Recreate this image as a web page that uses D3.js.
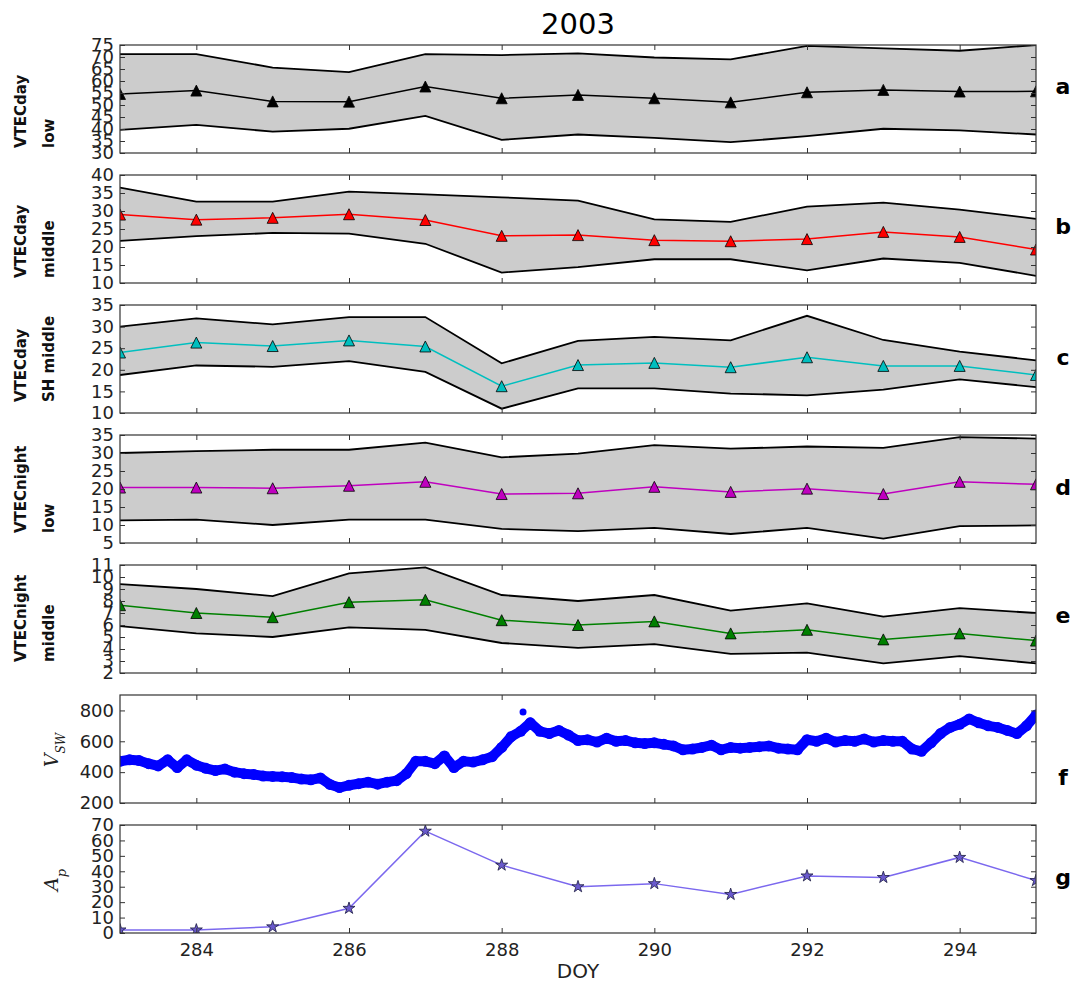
<!DOCTYPE html>
<html lang="en">
  <head>
    <meta charset="UTF-8" />
    <title>2003 VTEC / Vsw / Ap</title>
    <style>
      body {
        margin: 0;
        background: #fff;
      }
      text {
        font-family: "DejaVu Sans", sans-serif;
      }
    </style>
  </head>
  <body>
    <div id="chart"></div>

    <script src="https://cdnjs.cloudflare.com/ajax/libs/d3/7.8.5/d3.min.js"></script>

    <script>
      ///////////////////////////////////////////////////////////////////////////
      //////////////////////////////// Data /////////////////////////////////////
      ///////////////////////////////////////////////////////////////////////////

      var days = [283, 284, 285, 286, 287, 288, 289, 290, 291, 292, 293, 294, 295];
      var dayTicks = [284, 286, 288, 290, 292, 294];

      //a - VTECday low
      var aUpper = [71.2, 71.2, 65.6, 63.7, 71.2, 70.8, 71.5, 69.8, 69.0, 74.6, 73.6, 72.6, 75.0];
      var aMean = [54.6, 56.0, 51.5, 51.4, 57.7, 52.8, 54.2, 52.8, 51.1, 55.3, 56.3, 55.6, 55.7];
      var aLower = [39.6, 41.7, 38.9, 40.1, 45.5, 35.5, 37.7, 36.3, 34.5, 37.0, 40.1, 39.4, 37.7];

      //b - VTECday middle
      var bUpper = [36.5, 32.6, 32.6, 35.4, 34.6, 33.8, 32.9, 27.7, 27.0, 31.2, 32.3, 30.4, 27.8];
      var bMean = [29.0, 27.6, 28.1, 29.1, 27.5, 23.1, 23.3, 21.9, 21.6, 22.2, 24.2, 22.8, 19.3];
      var bLower = [21.7, 23.0, 23.9, 23.7, 20.9, 12.9, 14.4, 16.6, 16.6, 13.5, 16.8, 15.6, 12.0];

      //c - VTECday SH middle
      var cUpper = [30.0, 31.9, 30.5, 32.2, 32.2, 21.5, 26.7, 27.6, 26.8, 32.5, 26.9, 24.2, 22.2];
      var cMean = [24.0, 26.3, 25.5, 26.8, 25.4, 16.2, 21.1, 21.6, 20.6, 22.9, 20.9, 20.9, 18.8];
      var cLower = [18.8, 21.0, 20.7, 22.0, 19.5, 11.0, 15.7, 15.7, 14.5, 14.1, 15.4, 17.8, 16.0];

      //d - VTECnight low
      var dUpper = [30.0, 30.5, 30.9, 30.9, 32.9, 28.8, 29.8, 32.2, 31.2, 31.8, 31.4, 34.4, 34.0];
      var dMean = [20.4, 20.4, 20.2, 20.9, 22.0, 18.6, 18.8, 20.6, 19.2, 20.1, 18.6, 22.0, 21.3];
      var dLower = [11.3, 11.5, 10.0, 11.5, 11.5, 8.9, 8.3, 9.2, 7.5, 9.2, 6.2, 9.7, 9.9];

      //e - VTECnight middle
      var eUpper = [9.4, 9.0, 8.4, 10.3, 10.8, 8.5, 8.0, 8.5, 7.2, 7.8, 6.7, 7.4, 7.0];
      var eMean = [7.65, 7.0, 6.65, 7.9, 8.1, 6.4, 6.0, 6.3, 5.3, 5.6, 4.8, 5.3, 4.7];
      var eLower = [5.9, 5.3, 5.0, 5.8, 5.6, 4.5, 4.1, 4.4, 3.6, 3.7, 2.8, 3.4, 2.8];

      //f - solar wind speed, continuous band (doy, km/s)
      var vswDoy = [
        283.0, 283.125, 283.25, 283.375, 283.5, 283.625, 283.75, 283.875,
        284.0, 284.125, 284.25, 284.375, 284.5, 284.625, 284.75, 284.875,
        285.0, 285.125, 285.25, 285.375, 285.5, 285.625, 285.75, 285.875,
        286.0, 286.125, 286.25, 286.375, 286.5, 286.625, 286.75, 286.875,
        287.0, 287.125, 287.25, 287.375, 287.5, 287.625, 287.75, 287.875,
        288.0, 288.125, 288.25, 288.375, 288.5, 288.625, 288.75, 288.875,
        289.0, 289.125, 289.25, 289.375, 289.5, 289.625, 289.75, 289.875,
        290.0, 290.125, 290.25, 290.375, 290.5, 290.625, 290.75, 290.875,
        291.0, 291.125, 291.25, 291.375, 291.5, 291.625, 291.75, 291.875,
        292.0, 292.125, 292.25, 292.375, 292.5, 292.625, 292.75, 292.875,
        293.0, 293.125, 293.25, 293.375, 293.5, 293.625, 293.75, 293.875,
        294.0, 294.125, 294.25, 294.375, 294.5, 294.625, 294.75, 294.875,
        295.0
      ];
      var vswValue = [
        470, 480, 475, 455, 440, 480, 430, 480,
        445, 425, 410, 420, 400, 390, 385, 375,
        372, 370, 365, 355, 350, 362, 320, 300,
        315, 325, 335, 322, 335, 345, 390, 470,
        470, 455, 505, 430, 470, 465, 480, 500,
        560, 630, 665, 720, 665, 650, 670, 640,
        605, 610, 595, 620, 600, 605, 590, 585,
        590, 580, 570, 545, 550, 560, 575, 545,
        560, 555, 560, 565, 570, 555, 550, 545,
        610, 600, 620, 595, 605, 600, 615, 595,
        605, 600, 600, 550, 535, 590, 650, 690,
        710, 745, 720, 700, 690, 670, 650, 700,
        770
      ];
      //isolated spike
      var vswSpikeDoy = [288.28];
      var vswSpikeValue = [790];

      //g - Ap index
      var apValue = [2, 2, 4, 16, 66, 44, 30, 32, 25, 37, 36, 49, 34];

      ///////////////////////////////////////////////////////////////////////////
      ////////////////////////////// Layout /////////////////////////////////////
      ///////////////////////////////////////////////////////////////////////////

      var width = 1072,
        height = 983;
      var left = 120,
        right = 1036,
        firstTop = 45,
        panelStep = 130,
        panelH = 108;

      var svg = d3
        .select("#chart")
        .append("svg")
        .attr("width", width)
        .attr("height", height);

      var x = d3.scaleLinear().domain([283, 295]).range([left, right]);

      var bandPanels = [
        { upper: aUpper, mean: aMean, lower: aLower, color: "#000000", domain: [30, 75], step: 5,
          label: ["VTECday", "low"], labelBottom: 148, letter: "a", letterY: 86 },
        { upper: bUpper, mean: bMean, lower: bLower, color: "#ff0000", domain: [10, 40], step: 5,
          label: ["VTECday", "middle"], labelBottom: 278, letter: "b", letterY: 226 },
        { upper: cUpper, mean: cMean, lower: cLower, color: "#00bfbf", domain: [10, 35], step: 5,
          label: ["VTECday", "SH middle"], labelBottom: 402, letter: "c", letterY: 357 },
        { upper: dUpper, mean: dMean, lower: dLower, color: "#bf00bf", domain: [5, 35], step: 5,
          label: ["VTECnight", "low"], labelBottom: 533, letter: "d", letterY: 487 },
        { upper: eUpper, mean: eMean, lower: eLower, color: "#008000", domain: [2, 11], step: 1,
          label: ["VTECnight", "middle"], labelBottom: 662, letter: "e", letterY: 615 }
      ];

      //Title
      svg
        .append("text")
        .attr("x", 578)
        .attr("y", 34)
        .attr("text-anchor", "middle")
        .style("font-size", "29px")
        .text("2003");

      var defs = svg.append("defs");

      //matplotlib style '^' marker
      var tri = "M0,-5.5L5.5,5.5L-5.5,5.5Z";

      //Draws the frame, inward ticks and y labels for one panel
      function makePanel(i, y, yTicks) {
        var top = firstTop + i * panelStep;
        defs
          .append("clipPath")
          .attr("id", "clip" + i)
          .append("rect")
          .attr("x", left)
          .attr("y", top)
          .attr("width", right - left)
          .attr("height", panelH);

        var g = svg.append("g");

        var plot = g.append("g").attr("clip-path", "url(#clip" + i + ")");

        //axes, ticks pointing inward on all four sides
        var axL = g
          .append("g")
          .attr("transform", "translate(" + left + ",0)")
          .call(d3.axisLeft(y).tickValues(yTicks).tickSize(-5).tickPadding(6));
        var axR = g
          .append("g")
          .attr("transform", "translate(" + right + ",0)")
          .call(d3.axisRight(y).tickValues(yTicks).tickSize(-5).tickFormat(""));
        var axT = g
          .append("g")
          .attr("transform", "translate(0," + top + ")")
          .call(d3.axisTop(x).tickValues(dayTicks).tickSize(-5).tickFormat(""));
        var axB = g
          .append("g")
          .attr("transform", "translate(0," + (top + panelH) + ")")
          .call(d3.axisBottom(x).tickValues(dayTicks).tickSize(-5).tickFormat(""));

        [axL, axR, axT, axB].forEach(function(a) {
          a.select(".domain").remove();
          a.selectAll("line").attr("stroke", "#333");
          a.selectAll("text")
            .style("font-size", "18px")
            .attr("fill", "#222");
        });

        g.append("rect")
          .attr("x", left)
          .attr("y", top)
          .attr("width", right - left)
          .attr("height", panelH)
          .attr("fill", "none")
          .attr("stroke", "#333")
          .attr("stroke-width", 1.2);

        return { g: g, plot: plot, top: top };
      }

      function panelLetter(letter, yPos) {
        svg
          .append("text")
          .attr("x", 1063)
          .attr("y", yPos)
          .attr("text-anchor", "middle")
          .attr("dominant-baseline", "central")
          .style("font-size", "22px")
          .style("font-weight", "bold")
          .text(letter);
      }

      ///////////////////////////////////////////////////////////////////////////
      /////////////////////////// VTEC band panels //////////////////////////////
      ///////////////////////////////////////////////////////////////////////////

      bandPanels.forEach(function(p, i) {
        var top = firstTop + i * panelStep;
        var y = d3.scaleLinear().domain(p.domain).range([top + panelH, top]);
        var yTicks = d3.range(p.domain[0], p.domain[1] + 0.001, p.step);
        var panel = makePanel(i, y, yTicks);

        var area = d3
          .area()
          .x(function(d, j) { return x(days[j]); })
          .y0(function(d, j) { return y(p.lower[j]); })
          .y1(function(d, j) { return y(p.upper[j]); });

        var line = d3
          .line()
          .x(function(d, j) { return x(days[j]); })
          .y(function(d) { return y(d); });

        panel.plot
          .append("path")
          .attr("d", area(days))
          .attr("fill", "#cccccc");

        [p.upper, p.lower].forEach(function(arr) {
          panel.plot
            .append("path")
            .attr("d", line(arr))
            .attr("fill", "none")
            .attr("stroke", "#000")
            .attr("stroke-width", 1.8);
        });

        panel.plot
          .append("path")
          .attr("d", line(p.mean))
          .attr("fill", "none")
          .attr("stroke", p.color)
          .attr("stroke-width", 1.5);

        panel.plot
          .selectAll(".tri")
          .data(p.mean)
          .enter()
          .append("path")
          .attr("class", "tri")
          .attr("d", tri)
          .attr("transform", function(d, j) {
            return "translate(" + x(days[j]) + "," + y(d) + ")";
          })
          .attr("fill", p.color)
          .attr("stroke", "#000")
          .attr("stroke-width", 0.8);

        //two line rotated label, lines bottom aligned
        var lab = svg
          .append("text")
          .attr("transform", "translate(0," + p.labelBottom + ") rotate(-90)")
          .attr("text-anchor", "start")
          .style("font-size", "15px")
          .style("font-weight", "bold")
          .attr("fill", "#111");
        lab.append("tspan").attr("x", 0).attr("y", 26).text(p.label[0]);
        lab.append("tspan").attr("x", 0).attr("y", 54).text(p.label[1]);

        panelLetter(p.letter, p.letterY);
      });

      ///////////////////////////////////////////////////////////////////////////
      ////////////////////////////// Vsw panel //////////////////////////////////
      ///////////////////////////////////////////////////////////////////////////

      var topF = firstTop + 5 * panelStep;
      var yF = d3.scaleLinear().domain([200, 900]).range([topF + panelH, topF]);
      var panelF = makePanel(5, yF, [200, 400, 600, 800]);

      //thick band of samples
      panelF.plot
        .append("path")
        .attr(
          "d",
          d3
            .line()
            .x(function(d, j) { return x(vswDoy[j]); })
            .y(function(d) { return yF(d); })(vswValue)
        )
        .attr("fill", "none")
        .attr("stroke", "#0000ff")
        .attr("stroke-width", 10)
        .attr("stroke-linejoin", "round")
        .attr("stroke-linecap", "round");

      panelF.plot
        .selectAll(".dot")
        .data(vswValue)
        .enter()
        .append("circle")
        .attr("class", "dot")
        .attr("cx", function(d, j) { return x(vswDoy[j]); })
        .attr("cy", function(d) { return yF(d); })
        .attr("r", 5.5)
        .attr("fill", "#0000ff");

      panelF.plot
        .selectAll(".spike")
        .data(vswSpikeValue)
        .enter()
        .append("circle")
        .attr("class", "spike")
        .attr("cx", function(d, j) { return x(vswSpikeDoy[j]); })
        .attr("cy", function(d) { return yF(d); })
        .attr("r", 3.5)
        .attr("fill", "#0000ff");

      var vLab = svg
        .append("text")
        .attr("transform", "translate(58,750) rotate(-90)")
        .attr("text-anchor", "middle")
        .style("font-family", "DejaVu Serif, serif")
        .style("font-style", "italic")
        .style("font-size", "19px")
        .attr("fill", "#222");
      vLab.append("tspan").text("V");
      vLab.append("tspan").attr("baseline-shift", "sub").style("font-size", "12px").text("SW");

      panelLetter("f", 777);

      ///////////////////////////////////////////////////////////////////////////
      ////////////////////////////// Ap panel ///////////////////////////////////
      ///////////////////////////////////////////////////////////////////////////

      var topG = firstTop + 6 * panelStep;
      var yG = d3.scaleLinear().domain([0, 70]).range([topG + panelH, topG]);
      var panelG = makePanel(6, yG, d3.range(0, 71, 10));

      panelG.plot
        .append("path")
        .attr(
          "d",
          d3
            .line()
            .x(function(d, j) { return x(days[j]); })
            .y(function(d) { return yG(d); })(apValue)
        )
        .attr("fill", "none")
        .attr("stroke", "#7b68ee")
        .attr("stroke-width", 1.5);

      panelG.plot
        .selectAll(".star")
        .data(apValue)
        .enter()
        .append("path")
        .attr("class", "star")
        .attr("d", d3.symbol().type(d3.symbolStar).size(45))
        .attr("transform", function(d, j) {
          return "translate(" + x(days[j]) + "," + yG(d) + ")";
        })
        .attr("fill", "#6a5acd")
        .attr("stroke", "#1a1a40")
        .attr("stroke-width", 0.8);

      var aLab = svg
        .append("text")
        .attr("transform", "translate(58,880) rotate(-90)")
        .attr("text-anchor", "middle")
        .style("font-family", "DejaVu Serif, serif")
        .style("font-style", "italic")
        .style("font-size", "19px")
        .attr("fill", "#222");
      aLab.append("tspan").text("A");
      aLab.append("tspan").attr("baseline-shift", "sub").style("font-size", "13px").text("p");

      panelLetter("g", 877);

      //bottom x labels
      svg
        .append("g")
        .attr("transform", "translate(0," + (topG + panelH) + ")")
        .call(d3.axisBottom(x).tickValues(dayTicks).tickSize(0).tickPadding(10))
        .call(function(a) {
          a.select(".domain").remove();
          a.selectAll("text").style("font-size", "18px").attr("fill", "#222");
        });

      svg
        .append("text")
        .attr("x", 578)
        .attr("y", 978)
        .attr("text-anchor", "middle")
        .style("font-size", "20px")
        .attr("fill", "#222")
        .text("DOY");
    </script>
  </body>
</html>
